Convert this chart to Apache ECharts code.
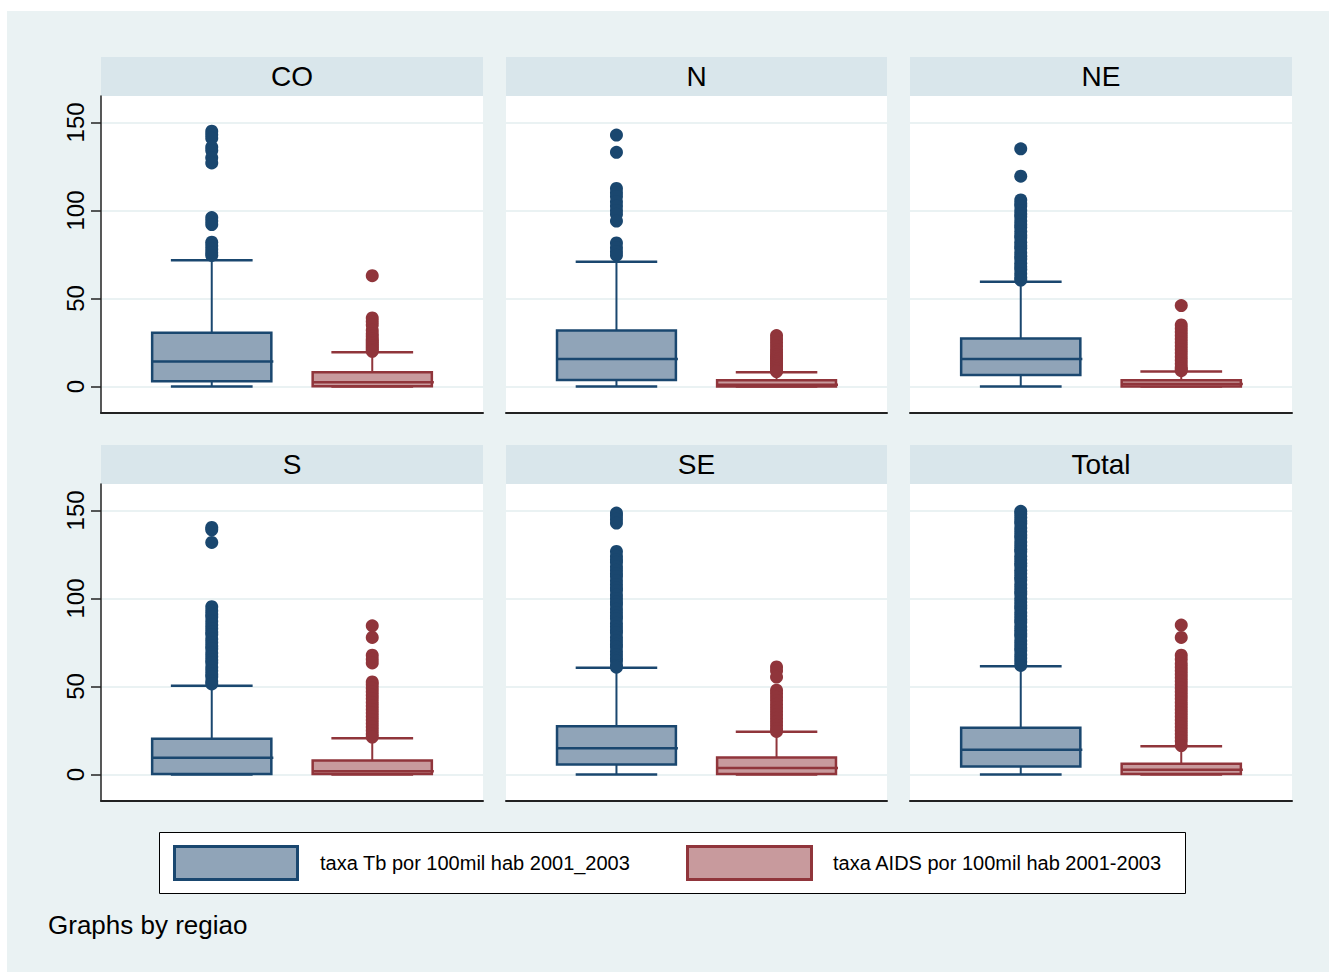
<!DOCTYPE html>
<html><head><meta charset="utf-8">
<script src="https://cdn.jsdelivr.net/npm/echarts@6/dist/echarts.min.js"></script>
<style>
html,body{margin:0;padding:0;background:#fff;overflow:hidden;}
#bg{position:absolute;left:7px;top:11px;right:0;bottom:0;background:#EAF2F3;}
#chart{position:absolute;left:0;top:0;width:1329px;height:972px;}
</style></head><body>
<div id="bg"></div><div id="chart"></div>
<script>
const regions = ['CO', 'N', 'NE', 'S', 'SE', 'Total'];
const variables = ['taxa Tb por 100mil hab 2001_2003', 'taxa AIDS por 100mil hab 2001-2003'];
const yTicks = [0, 50, 100, 150];
const footnote = 'Graphs by regiao';

// [lower adjacent, q1, median, q3, upper adjacent]
const tbStats = [
  [0, 3.0, 14.2, 30.5, 71.8],
  [0, 3.8, 15.7, 31.8, 70.9],
  [0, 6.6, 15.7, 27.3, 59.5],
  [0, 0.4, 9.5, 20.3, 50.5],
  [0, 5.7, 15.0, 27.4, 60.6],
  [0, 4.6, 14.1, 26.6, 61.5]
];
const aidsStats = [
  [0, 0.2, 2.4, 8.1, 19.5],
  [0, 0.0, 1.0, 3.6, 8.1],
  [0, 0.0, 1.5, 3.6, 8.5],
  [0, 0.4, 1.9, 8.0, 20.7],
  [0, 0.4, 3.8, 9.7, 24.3],
  [0, 0.4, 2.7, 6.1, 16.1]
];
const tbOutliers = [
  [145, 143, 141, 136, 134, 130, 127, 96, 94, 92, 82, 80, 78, 76, 74.5],
  [142.8, 133, 112.5, 110, 108, 105, 102.5, 100, 97.8, 94, 81.6, 78.8, 76.5, 74.6],
  [135, 119.5, 106, 104, 102.5, 100, 98, 96.5, 94, 92, 90.5, 88, 86, 84.5, 82, 80, 78.5, 76, 74, 72.5, 70, 68, 66.5, 64, 62, 60.5],
  [140.3, 139, 131.8, 95.3, 93, 91, 89.5, 87, 85, 83, 81, 79.5, 77, 75, 73, 71.5, 69, 67, 65, 63.5, 61, 59, 57, 55.5, 53, 51.5],
  [148.5, 147, 145, 142.8, 126.7, 124, 122, 120.5, 118, 116, 114, 112.5, 110, 108, 106, 104.5, 102, 100, 98, 96.5, 94, 92, 90, 88.5, 86, 84, 82, 80.5, 78, 76, 74, 72.5, 70, 68, 66, 64.5, 62, 61],
  [149.5, 148, 146, 144, 142.5, 140, 138, 136, 134.5, 132, 130, 128, 126.5, 124, 122, 120, 118.5, 116, 114, 112, 110.5, 108, 106, 104, 102.5, 100, 98, 96, 94.5, 92, 90, 88, 86.5, 84, 82, 80, 78.5, 76, 74, 72, 70.5, 68, 66, 64, 62]
];
const aidsOutliers = [
  [63, 39, 37, 35, 32, 30, 28.6, 27, 26, 25, 24, 23, 22, 21, 20],
  [29, 27, 25, 23, 21, 19.5, 18, 17, 16, 15, 14, 13, 12, 11, 10, 9, 8.5],
  [46, 35, 33, 31, 29, 27, 25, 23, 21, 19, 17, 15, 13, 11, 10, 9],
  [84.5, 77.9, 67.8, 65.5, 63.4, 52.6, 51, 49, 47, 45, 43, 41, 39, 37, 35, 33, 31, 29, 27, 25, 23, 21.3],
  [61.1, 59, 55.4, 47.9, 46, 44, 42, 40, 38, 36, 34, 32, 30, 28, 26, 24.5],
  [84.9, 77.9, 67.8, 65.5, 63, 61, 59, 57, 55, 53, 51, 49, 47, 45, 43, 41, 39, 37, 35, 33, 31, 29, 27, 25, 23, 21, 19, 16.5]
];

const FONT = 'Liberation Sans, Arial, Helvetica, sans-serif';
const tbLine = '#1A476F', tbFill = '#90A4B8';
const aidsLine = '#90353B', aidsFill = '#C89A9D';
const colLeft = [101, 506, 910];
const colWidth = [382, 381, 382];
const rowTop = [96, 484];
const plotH = 317, stripH = 39;
const yMin = -15, yMax = 165;
const xMin = -0.69, xMax = 1.69;

function boxRender(color, fill) {
  return function (params, api) {
    const x = api.value(0);
    const lo = api.coord([x, api.value(1)]);
    const q1 = api.coord([x, api.value(2)]);
    const md = api.coord([x, api.value(3)]);
    const q3 = api.coord([x, api.value(4)]);
    const hi = api.coord([x, api.value(5)]);
    const w = params.coordSys.width;
    const bh = w * 0.156, ch = w * 0.107;
    const cx = q1[0];
    const ls = { stroke: color, lineWidth: 2 };
    return {
      type: 'group', children: [
        { type: 'line', shape: { x1: cx, y1: q3[1], x2: cx, y2: hi[1] }, style: ls },
        { type: 'line', shape: { x1: cx, y1: q1[1], x2: cx, y2: lo[1] }, style: ls },
        { type: 'line', shape: { x1: cx - ch, y1: hi[1], x2: cx + ch, y2: hi[1] }, style: { stroke: color, lineWidth: 2.5 } },
        { type: 'line', shape: { x1: cx - ch, y1: lo[1], x2: cx + ch, y2: lo[1] }, style: { stroke: color, lineWidth: 2.5 } },
        { type: 'rect', shape: { x: cx - bh, y: q3[1], width: 2 * bh, height: Math.max(q1[1] - q3[1], 1) }, style: { fill: fill, stroke: color, lineWidth: 2.5 } },
        { type: 'line', shape: { x1: cx - bh, y1: md[1], x2: cx + bh + 2, y2: md[1] }, style: { stroke: color, lineWidth: 2.5 } }
      ]
    };
  };
}

const grids = [], xAxes = [], yAxes = [], series = [], graphics = [];
regions.forEach(function (name, i) {
  const c = i % 3, r = Math.floor(i / 3);
  const left = colLeft[c], top = rowTop[r], width = colWidth[c];
  grids.push({ left: left, top: top, width: width, height: plotH, show: true, backgroundColor: '#ffffff', borderWidth: 0 });
  xAxes.push({
    gridIndex: i, type: 'value', min: xMin, max: xMax, position: 'bottom',
    axisLine: { show: true, onZero: false, lineStyle: { color: '#222', width: 2 } },
    axisTick: { show: false }, axisLabel: { show: false }, splitLine: { show: false }
  });
  const showY = c === 0;
  yAxes.push({
    gridIndex: i, type: 'value', min: yMin, max: yMax, position: 'left',
    axisLine: { show: showY, onZero: false, lineStyle: { color: '#222', width: 1.5 } },
    axisTick: { show: showY, length: 10, customValues: yTicks, lineStyle: { color: '#222', width: 1.5 } },
    axisLabel: { show: showY, customValues: yTicks, rotate: 90, margin: 14, fontSize: 24, fontFamily: FONT, color: '#000' },
    splitLine: { show: true, lineStyle: { color: '#EAF2F3', width: 2 } }
  });
  series.push({
    type: 'custom', name: variables[0], xAxisIndex: i, yAxisIndex: i,
    renderItem: boxRender(tbLine, tbFill), encode: { x: 0, y: [1, 2, 3, 4, 5] },
    data: [[0].concat(tbStats[i])], z: 2
  });
  series.push({
    type: 'custom', name: variables[1], xAxisIndex: i, yAxisIndex: i,
    renderItem: boxRender(aidsLine, aidsFill), encode: { x: 0, y: [1, 2, 3, 4, 5] },
    data: [[1].concat(aidsStats[i])], z: 2
  });
  series.push({
    type: 'scatter', name: variables[0] + ' outliers', xAxisIndex: i, yAxisIndex: i,
    symbol: 'circle', symbolSize: 13, itemStyle: { color: tbLine, opacity: 1 }, z: 3,
    data: tbOutliers[i].map(function (v) { return [0, v]; })
  });
  series.push({
    type: 'scatter', name: variables[1] + ' outliers', xAxisIndex: i, yAxisIndex: i,
    symbol: 'circle', symbolSize: 13, itemStyle: { color: aidsLine, opacity: 1 }, z: 3,
    data: aidsOutliers[i].map(function (v) { return [1, v]; })
  });
  graphics.push({ type: 'rect', shape: { x: left, y: top - stripH, width: width, height: stripH }, style: { fill: '#D9E6EB' } });
  graphics.push({ type: 'text', x: left + width / 2, y: top - stripH / 2,
    style: { text: name, fontSize: 28, fontFamily: FONT, fill: '#000', align: 'center', verticalAlign: 'middle' } });
});

// legend
graphics.push({ type: 'rect', shape: { x: 159.5, y: 832.5, width: 1026, height: 61 }, style: { fill: '#fff', stroke: '#000', lineWidth: 1 } });
graphics.push({ type: 'rect', shape: { x: 174.5, y: 846.5, width: 123, height: 33 }, style: { fill: tbFill, stroke: tbLine, lineWidth: 3 } });
graphics.push({ type: 'text', x: 320, y: 863, style: { text: variables[0], fontSize: 20, fontFamily: FONT, fill: '#000', align: 'left', verticalAlign: 'middle' } });
graphics.push({ type: 'rect', shape: { x: 687.5, y: 846.5, width: 124, height: 33 }, style: { fill: aidsFill, stroke: aidsLine, lineWidth: 3 } });
graphics.push({ type: 'text', x: 833, y: 863, style: { text: variables[1], fontSize: 20, fontFamily: FONT, fill: '#000', align: 'left', verticalAlign: 'middle' } });
graphics.push({ type: 'text', x: 48, y: 925, style: { text: footnote, fontSize: 26, fontFamily: FONT, fill: '#000', align: 'left', verticalAlign: 'middle' } });

const chart = echarts.init(document.getElementById('chart'), null, { renderer: 'svg' });
chart.setOption({
  backgroundColor: 'transparent',
  animation: false,
  textStyle: { fontFamily: FONT },
  grid: grids, xAxis: xAxes, yAxis: yAxes, series: series,
  graphic: graphics
});
</script>
</body></html>
